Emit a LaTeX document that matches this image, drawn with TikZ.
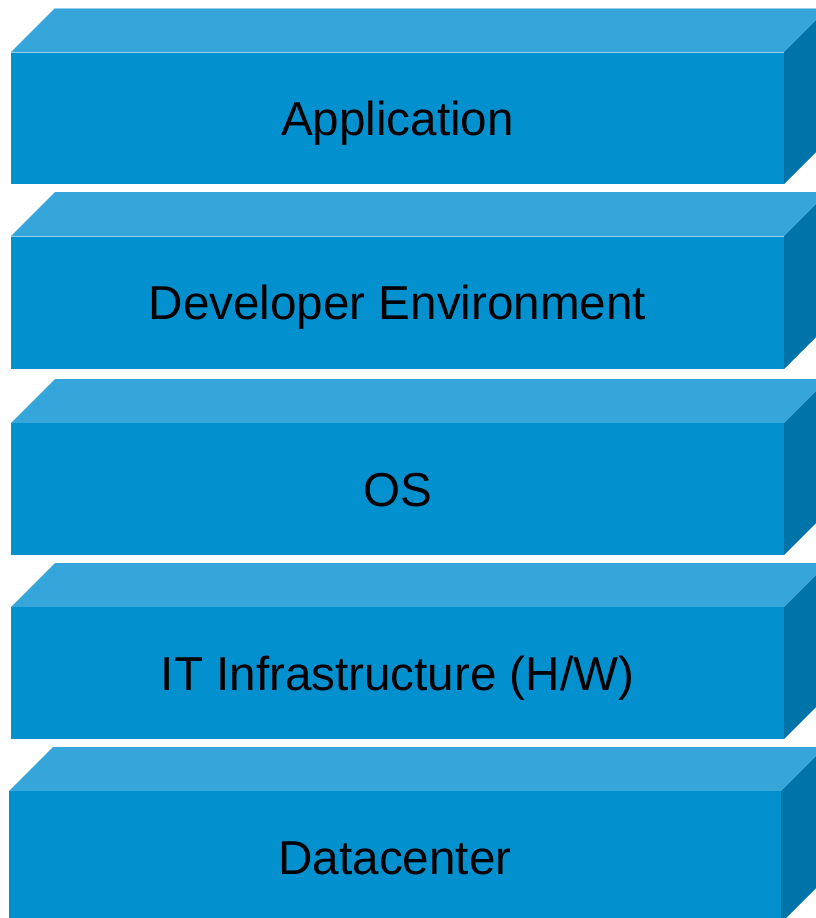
\documentclass[tikz,border=0pt]{standalone}
\usepackage{fontspec}
\setmainfont{Liberation Sans}
\definecolor{frontc}{RGB}{3,144,207}
\definecolor{topc}{RGB}{54,165,217}
\definecolor{sidec}{RGB}{0,116,168}
\definecolor{edgec}{RGB}{150,206,236}
\tikzset{
  lbl/.style={font=\fontsize{47.6}{57}\selectfont, text=black, inner sep=0pt, anchor=base},
}
\newcommand{\layerbox}[7]{%
  % #1 left, #2 top of top face, #3 front top, #4 bottom, #5 right, #6 name, #7 text
  \pgfmathsetmacro{\dd}{#3-#2}
  \fill[topc] (#1,#3) -- ({#1+\dd},#2) -- ({#5+\dd},#2) -- (#5,#3) -- cycle;
  \fill[sidec] (#5,#3) -- ({#5+\dd},#2) -- ({#5+\dd},{#4-\dd}) -- (#5,#4) -- cycle;
  \fill[frontc] (#1,#3) rectangle (#5,#4);
  \node[lbl] (#6) at ({(#1+#5)/2},{#3+83}) {#7};
}
\begin{document}
\begin{tikzpicture}[x=1pt,y=-1pt]
\useasboundingbox (0,0) rectangle (816,918);
\begin{scope}
\clip (0,0) rectangle (816,918);
\layerbox{11}{8}{52}{184}{784}{app}{Application}
\draw[edgec, line width=0.8pt] (11,52) -- (784,52);
\draw[edgec, line width=0.8pt] (55,8) -- (828,8);
\layerbox{11}{192}{236}{369}{784}{dev}{Developer Environment}
\draw[edgec, line width=0.6pt] (11,236) -- (784,236);
\layerbox{11}{379}{423}{555}{784}{os}{OS}
\layerbox{11}{563}{607}{739}{784}{it}{IT Infrastructure (H/W)}
\layerbox{9}{747}{791}{923}{781}{dc}{Datacenter}
\end{scope}
\end{tikzpicture}
\end{document}
